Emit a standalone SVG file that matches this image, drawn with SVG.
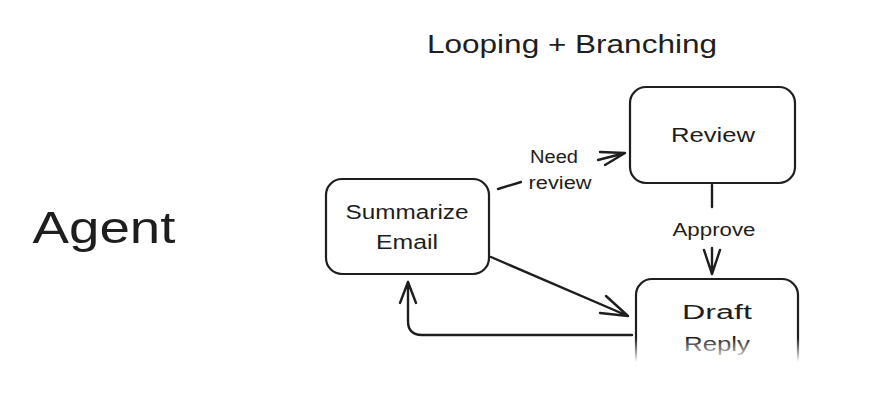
<svg xmlns="http://www.w3.org/2000/svg" width="870" height="406" viewBox="0 0 870 406">
<style>
.box{fill:#fff;stroke:#1e1e1e;stroke-width:2.2}
.t{font-family:"Liberation Sans",Arial,sans-serif;fill:#1e1e1e;text-anchor:middle}
.n{font-size:20px}
.lbl{font-size:18px}
.c{fill:none;stroke:#1e1e1e;stroke-width:2.4;stroke-linecap:round;stroke-linejoin:round}
</style>
<defs>
<linearGradient id="fade" x1="0" y1="0" x2="0" y2="1">
<stop offset="0" stop-color="#fff" stop-opacity="0"/>
<stop offset="1" stop-color="#fff" stop-opacity="1"/>
</linearGradient>
</defs>
<rect width="870" height="406" fill="#fff"/>
<text class="t" x="572" y="53" font-size="25" textLength="290" lengthAdjust="spacingAndGlyphs">Looping + Branching</text>
<text class="t" x="104" y="243" font-size="44" textLength="143" lengthAdjust="spacingAndGlyphs">Agent</text>

<g id="connectors">
<path class="c" d="M498,189 L521,182"/>
<path class="c" d="M598,160 L625,153 M600,152 L625,153 M605,165 L625,153"/>
<path class="c" d="M712,185 L712,207"/>
<path class="c" d="M712,248 L712,274 M704,250 L712,274 M720,250 L712,274"/>
<path class="c" d="M491,257 L628,316 M606,296 L628,316 M600,313 L628,316"/>
<path class="c" d="M632,335 L422,335 Q408,335 408,321 L408,282 M400,303 L408,282 M416,303 L408,282"/>
</g>
<text class="t lbl" x="554" y="163" textLength="48" lengthAdjust="spacingAndGlyphs">Need</text>
<text class="t lbl" x="560" y="189" textLength="63" lengthAdjust="spacingAndGlyphs">review</text>
<text class="t lbl" x="714" y="236" textLength="83" lengthAdjust="spacingAndGlyphs">Approve</text>

<g id="summarize">
<rect class="box" x="326" y="179" width="163" height="95" rx="16"/>
<text class="t n" x="407" y="219" textLength="123" lengthAdjust="spacingAndGlyphs">Summarize</text>
<text class="t n" x="407" y="249" textLength="62" lengthAdjust="spacingAndGlyphs">Email</text>
</g>
<g id="review">
<rect class="box" x="630" y="87" width="165" height="96" rx="16"/>
<text class="t n" x="713" y="142" textLength="84" lengthAdjust="spacingAndGlyphs">Review</text>
</g>
<g id="draft">
<rect class="box" x="636" y="279" width="162" height="96" rx="16"/>
<text class="t n" x="717" y="319" textLength="70" lengthAdjust="spacingAndGlyphs">Draft</text>
<text class="t n" x="717" y="351" textLength="66" lengthAdjust="spacingAndGlyphs">Reply</text>
</g>
<rect x="0" y="338" width="870" height="24" fill="url(#fade)"/>
<rect x="0" y="362" width="870" height="44" fill="#fff"/>
</svg>
